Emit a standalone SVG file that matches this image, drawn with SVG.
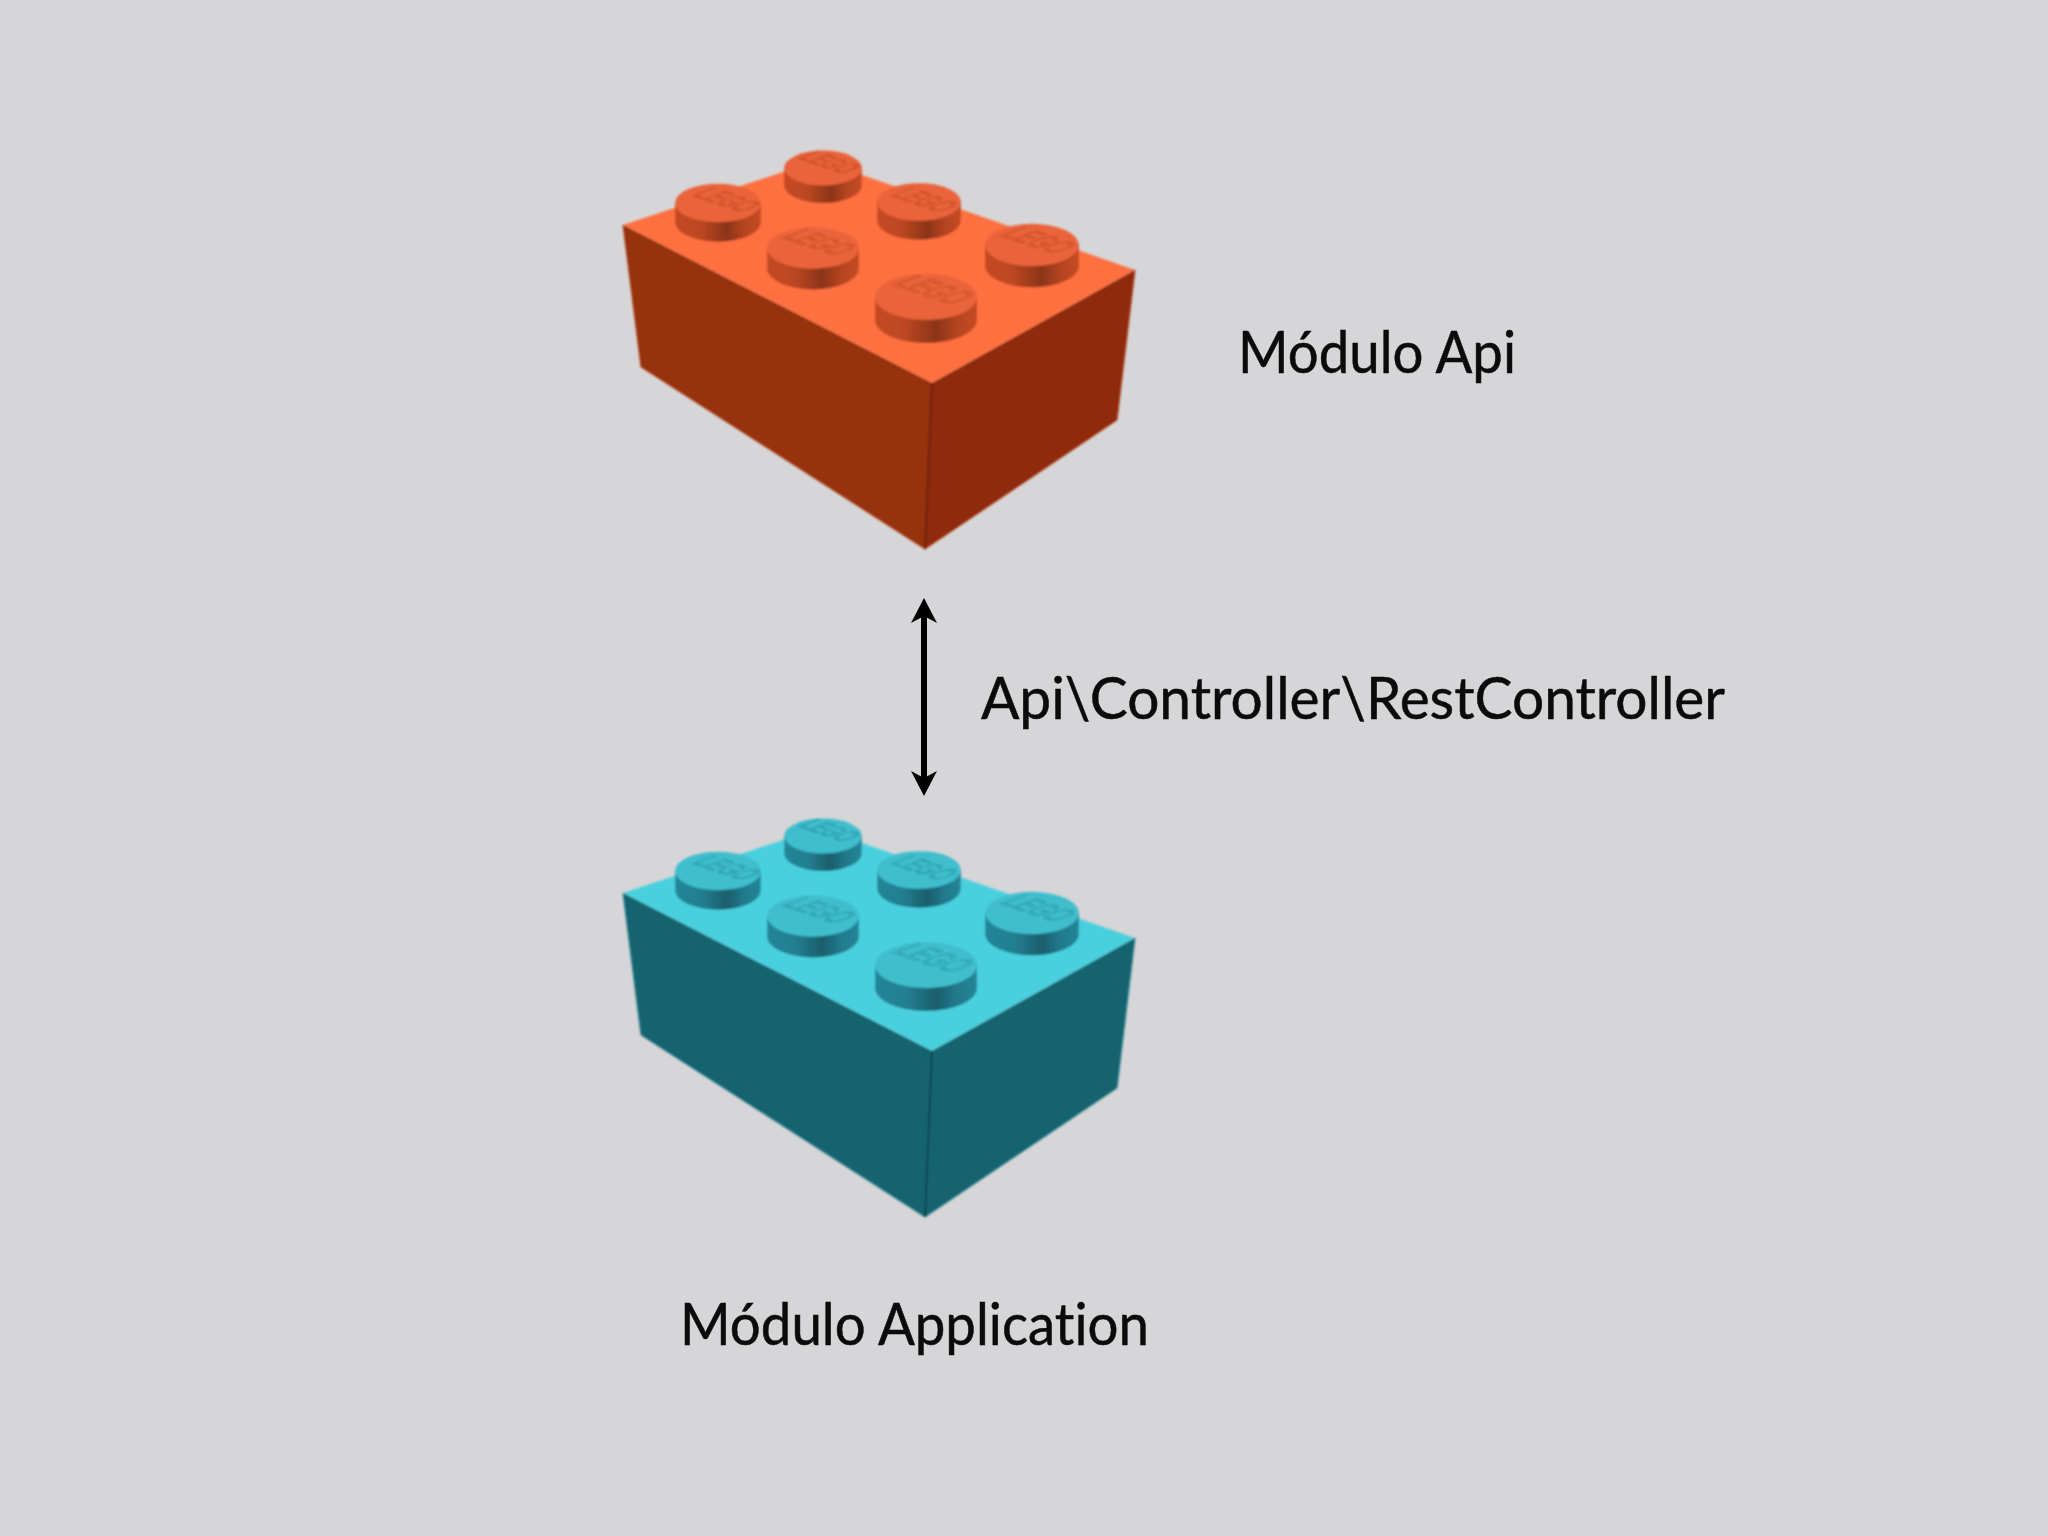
<svg xmlns="http://www.w3.org/2000/svg" xmlns:xlink="http://www.w3.org/1999/xlink" width="2048" height="1536" viewBox="0 0 2048 1536">
<style>
.orange{--top:#FF6F40;--left:#963110;--right:#8F2C0E;--edge:#B03E18;--crease:#6E2008;--stud:#EA643A;--wall:#CC4D24;--logo:#BE4620}
.teal{--top:#4AD0DE;--left:#19636F;--right:#18636F;--edge:#237F8E;--crease:#0E4650;--stud:#3FBECE;--wall:#268A9E;--logo:#2590A2}
.t{fill:var(--top)}.l{fill:var(--left)}.r{fill:var(--right)}
.e{fill:none;stroke:var(--edge);stroke-width:1}
.c{fill:none;stroke:var(--crease);stroke-width:2}
.sw{fill:var(--wall)}.st{fill:var(--stud)}
.logo{font-family:"Liberation Sans",sans-serif;font-size:10px;fill:none;stroke:var(--logo);stroke-width:1;vector-effect:non-scaling-stroke}
.label{font-family:Lato,"Liberation Sans",sans-serif;font-size:58px;fill:#0B0B0B;stroke:#0B0B0B;stroke-width:.5;font-variant-ligatures:none}
</style>
<defs>
<linearGradient id="shade" x1="0" x2="1" y1="0" y2="0">
<stop offset="0" stop-color="#000" stop-opacity=".04"/>
<stop offset=".3" stop-color="#000" stop-opacity=".08"/>
<stop offset=".6" stop-color="#000" stop-opacity=".32"/>
<stop offset=".8" stop-color="#000" stop-opacity=".12"/>
<stop offset="1" stop-color="#000" stop-opacity=".03"/>
</linearGradient>
<filter id="soft" x="-5%" y="-5%" width="110%" height="110%"><feGaussianBlur stdDeviation=".8"/></filter>
<g id="stud">
<path class="sw" d="M-51 0V23A51 23 0 0 0 51 23V0Z"/>
<path fill="url(#shade)" d="M-51 0V23A51 23 0 0 0 51 23V0Z"/>
<ellipse class="st" cx="0" cy="0" rx="51" ry="23"/>
</g>
<g id="body">
<polygon class="t" points="623,225 819,160 1135,270 932,383"/>
<polygon class="l" points="623,225 932,383 925,549 641,367"/>
<polygon class="r" points="932,383 1135,270 1117,420 925,549"/>
<path class="e" d="M623 225L641 367L925 549L1117 420L1135 270"/>
<path class="c" d="M932 383L925 549"/>
</g>
<marker id="head" markerUnits="userSpaceOnUse" markerWidth="26" markerHeight="28" viewBox="0 0 26 28" refX="7" refY="14" orient="auto-start-reverse">
<path d="M25 14L0 1L7 14L0 27Z" fill="#000"/>
</marker>
</defs>
<rect width="2048" height="1536" fill="#D6D5D7"/>
<g id="brick-api" class="orange" filter="url(#soft)">
<use href="#body"/>
<use href="#stud" transform="translate(823,168) scale(.76)"/>
<text class="logo" transform="matrix(1.66 .57 -2.85 1.06 797 158)">LEGO</text>
<use href="#stud" transform="translate(718,203) scale(.84)"/>
<text class="logo" transform="matrix(1.84 .63 -3.15 1.17 691 195)">LEGO</text>
<use href="#stud" transform="translate(919,202) scale(.82)"/>
<text class="logo" transform="matrix(1.80 .62 -3.08 1.14 889 195)">LEGO</text>
<use href="#stud" transform="translate(813,248) scale(.9)"/>
<text class="logo" transform="matrix(1.97 .68 -3.38 1.25 781 237)">LEGO</text>
<use href="#stud" transform="translate(1032,245) scale(.92)"/>
<text class="logo" transform="matrix(2.01 .69 -3.45 1.28 999 235)">LEGO</text>
<use href="#stud" transform="translate(926,297)"/>
<text class="logo" transform="matrix(2.19 .755 -3.75 1.39 891 284)">LEGO</text>
</g>
<g id="brick-application" class="teal" filter="url(#soft)" transform="translate(0,668)">
<use href="#body"/>
<use href="#stud" transform="translate(823,168) scale(.76)"/>
<text class="logo" transform="matrix(1.66 .57 -2.85 1.06 797 158)">LEGO</text>
<use href="#stud" transform="translate(718,203) scale(.84)"/>
<text class="logo" transform="matrix(1.84 .63 -3.15 1.17 691 195)">LEGO</text>
<use href="#stud" transform="translate(919,202) scale(.82)"/>
<text class="logo" transform="matrix(1.80 .62 -3.08 1.14 889 195)">LEGO</text>
<use href="#stud" transform="translate(813,248) scale(.9)"/>
<text class="logo" transform="matrix(1.97 .68 -3.38 1.25 781 237)">LEGO</text>
<use href="#stud" transform="translate(1032,245) scale(.92)"/>
<text class="logo" transform="matrix(2.01 .69 -3.45 1.28 999 235)">LEGO</text>
<use href="#stud" transform="translate(926,297)"/>
<text class="logo" transform="matrix(2.19 .755 -3.75 1.39 891 284)">LEGO</text>
</g>
<g id="connectors">
<line x1="924" y1="616" x2="924" y2="778" stroke="#000" stroke-width="6" marker-start="url(#head)" marker-end="url(#head)"/>
</g>
<g id="labels">
<text class="label" x="1238" y="373" textLength="278" lengthAdjust="spacingAndGlyphs">Módulo Api</text>
<text class="label" x="981" y="719" textLength="744" lengthAdjust="spacingAndGlyphs">Api\Controller\RestController</text>
<text class="label" x="680" y="1345" textLength="469" lengthAdjust="spacingAndGlyphs">Módulo Application</text>
</g>
</svg>
